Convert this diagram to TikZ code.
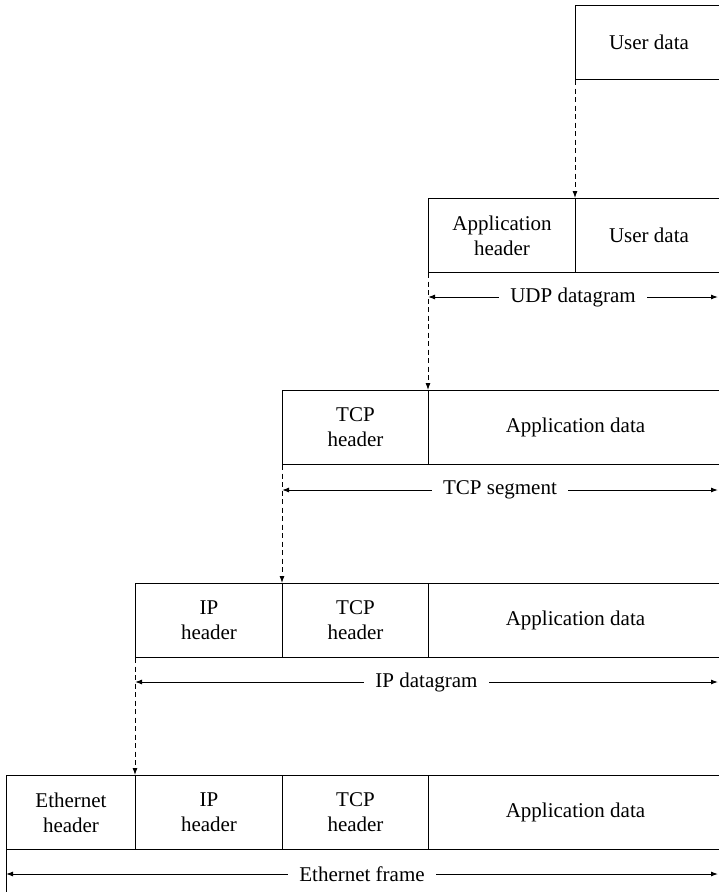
\documentclass[tikz,border=0pt]{standalone}
\usepackage{fontspec}
\setmainfont{Liberation Serif}
\usetikzlibrary{arrows.meta,calc}
\begin{document}
\begin{tikzpicture}[x=1pt,y=-1pt,
  every node/.style={font=\fontsize{21}{25}\selectfont},
  cell/.style={draw, line width=1pt, anchor=north west, minimum height=74pt, inner sep=0pt, align=center},
  dashlink/.style={line width=0.9pt, dash pattern=on 5pt off 3.5pt, -{Latex[length=7pt,width=5pt]}},
  ruler/.style={line width=1pt, {Latex[length=7pt,width=5pt]}-{Latex[length=7pt,width=5pt]}},
  rlabel/.style={fill=white, inner xsep=11pt, inner ysep=2pt}]
\useasboundingbox (0,0) rectangle (718,892);
% level 1
\node[cell, minimum width=147pt] (ud1) at (575,5) {User data};
% level 2
\node[cell, minimum width=147pt] (ah2) at (428,198) {Application\\header};
\node[cell, minimum width=147pt] (ud2) at (575,198) {User data};
% level 3
\node[cell, minimum width=146pt] (th3) at (282,390) {TCP\\header};
\node[cell, minimum width=294pt] (ad3) at (428,390) {Application data};
% level 4
\node[cell, minimum width=147pt] (ih4) at (135,583) {IP\\header};
\node[cell, minimum width=146pt] (th4) at (282,583) {TCP\\header};
\node[cell, minimum width=294pt] (ad4) at (428,583) {Application data};
% level 5
\node[cell, minimum width=129pt] (eh5) at (6,775) {Ethernet\\header};
\node[cell, minimum width=147pt] (ih5) at (135,775) {IP\\header};
\node[cell, minimum width=146pt] (th5) at (282,775) {TCP\\header};
\node[cell, minimum width=294pt] (ad5) at (428,775) {Application data};
% dashed links
\draw[dashlink] (ud1.south west) -- (ud2.north west);
\draw[dashlink] (ah2.south west) -- (ad3.north west);
\draw[dashlink] (th3.south west) -- (th4.north west);
\draw[dashlink] (ih4.south west) -- (ih5.north west);
\coordinate (ebot) at (6,892);
\draw[line width=1pt] (eh5.south west) -- (ebot);
% rulers
\coordinate (r2l) at (428,297); \coordinate (r2r) at (718,297);
\coordinate (r3l) at (282,490); \coordinate (r3r) at (718,490);
\coordinate (r4l) at (135,682); \coordinate (r4r) at (718,682);
\coordinate (r5l) at (6,874);   \coordinate (r5r) at (718,874);
\draw[ruler] (r2l) -- (r2r);
\draw[ruler] (r3l) -- (r3r);
\draw[ruler] (r4l) -- (r4r);
\draw[ruler] (r5l) -- (r5r);
\node[rlabel] (l2) at ($(r2l)!0.5!(r2r)$) {UDP datagram};
\node[rlabel] (l3) at ($(r3l)!0.5!(r3r)$) {TCP segment};
\node[rlabel] (l4) at ($(r4l)!0.5!(r4r)$) {IP datagram};
\node[rlabel] (l5) at ($(r5l)!0.5!(r5r)$) {Ethernet frame};
\end{tikzpicture}
\end{document}
